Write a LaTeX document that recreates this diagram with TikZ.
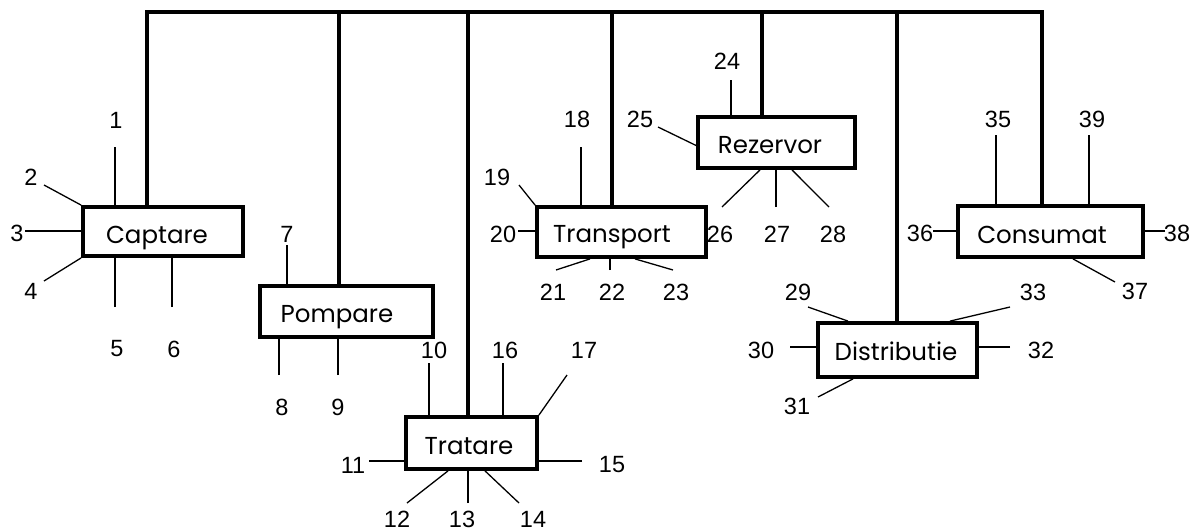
\documentclass[tikz,border=0pt]{standalone}
\usepackage{fontspec}
\setmainfont{Liberation Sans}
\newfontfamily\boxfont{Poppins}
\usetikzlibrary{calc}
\begin{document}
\begin{tikzpicture}[x=1pt,y=-1pt,
  stagebox/.style={draw, line width=3.8pt, inner sep=0pt},
  stagename/.style={anchor=base, inner sep=0pt, font=\boxfont\fontsize{24.5}{28}\selectfont},
  num/.style={inner sep=0pt, font=\fontsize{23.5}{28}\selectfont},
  trunk/.style={line width=4.2pt, line join=miter},
  wire/.style={line width=1.3pt}]
\useasboundingbox (0,0) rectangle (1194,531);
% boxes
\node[stagebox, minimum width=160pt, minimum height=49pt] (cap) at (163,231.5) {};
\node[stagebox, minimum width=173pt, minimum height=51pt] (pom) at (346.5,311.5) {};
\node[stagebox, minimum width=131pt, minimum height=52pt] (tra) at (471.5,443) {};
\node[stagebox, minimum width=169pt, minimum height=50pt] (tsp) at (621.5,232) {};
\node[stagebox, minimum width=157pt, minimum height=51pt] (rez) at (776.5,142.5) {};
\node[stagebox, minimum width=159pt, minimum height=54pt] (dis) at (897.5,350) {};
\node[stagebox, minimum width=185pt, minimum height=51pt] (con) at (1050.5,231.5) {};
% box texts
\node[stagename] (capt) at (157,243) {Captare};
\node[stagename] (pomt) at (337,322) {Pompare};
\node[stagename] (trat) at (469,454) {Tratare};
\node[stagename] (tspt) at (612,242) {Transport};
\node[stagename] (rezt) at (770,153) {Rezervor};
\node[stagename] (dist) at (896,360) {Distributie};
\node[stagename] (cont) at (1042,243) {Consumat};
% trunk
\coordinate (tl) at (147,12);
\coordinate (tr) at (1042,12);
\coordinate (t2) at (339,12);
\coordinate (t3) at (468,12);
\coordinate (t4) at (612,12);
\coordinate (t5) at (762,12);
\coordinate (t6) at (897,12);
\draw[trunk] (tl |- cap.north) -- (tl) -- (tr) -- (tr |- con.north);
\draw[trunk] (t2) -- (t2 |- pom.north);
\draw[trunk] (t3) -- (t3 |- tra.north);
\draw[trunk] (t4) -- (t4 |- tsp.north);
\draw[trunk] (t5) -- (t5 |- rez.north);
\draw[trunk] (t6) -- (t6 |- dis.north);
% labels
\foreach \n/\x/\y in {1/116/120, 2/31/177, 3/17/233, 4/31/291, 5/117/349, 6/174/349,
  7/287/234, 8/282/407, 9/338/407, 10/434/350, 11/353/465, 12/397/519, 13/462/519, 14/533/519,
  15/612/465, 16/505/350, 17/584/350, 18/577/119, 19/497/177, 20/503/234, 21/553/292,
  22/612/292, 23/676/292, 24/727/61, 25/640/119, 26/720/234, 27/777/234, 28/833/234,
  29/798/292, 30/761/350, 31/797/406, 32/1041/350, 33/1033/292, 35/998/119, 36/920/233,
  37/1135/291, 38/1177/233, 39/1092/119}
  \node[num] (l\n) at (\x,\y) {\n};
% free ends of wires
\coordinate (e1) at (115,147);
\coordinate (e2) at (44,185);
\coordinate (e3) at (25,231);
\coordinate (e4) at (44,281);
\coordinate (e5) at (115,307);
\coordinate (e6) at (172,307);
\coordinate (e7) at (287,245);
\coordinate (e8) at (279,375);
\coordinate (e9) at (338,375);
\coordinate (e10) at (429,363);
\coordinate (e11) at (369,461);
\coordinate (e12) at (407,503);
\coordinate (e13) at (468,503);
\coordinate (e14) at (519,503);
\coordinate (e15) at (582,461);
\coordinate (e16) at (503,363);
\coordinate (e17) at (567,375);
\coordinate (e18) at (581,147);
\coordinate (e19) at (519,185);
\coordinate (e20) at (518,231);
\coordinate (e21) at (556,270);
\coordinate (e22) at (610,270);
\coordinate (e23) at (673,270);
\coordinate (e24) at (731,80);
\coordinate (e25) at (658,127);
\coordinate (e26) at (722,207);
\coordinate (e27) at (776,207);
\coordinate (e28) at (829,207);
\coordinate (e29) at (808,307);
\coordinate (e30) at (790,347);
\coordinate (e31) at (818,397);
\coordinate (e32) at (1010,347);
\coordinate (e33) at (1010,307);
\coordinate (e35) at (996,135);
\coordinate (e36) at (933,231);
\coordinate (e37) at (1115,282);
\coordinate (e38) at (1165,231);
\coordinate (e39) at (1089,135);
% wires
\draw[wire] (e1) -- (e1 |- cap.north);
\draw[wire] (e2) -- (cap.north west);
\draw[wire] (e3) -- (e3 -| cap.west);
\draw[wire] (e4) -- (cap.south west);
\draw[wire] (e5) -- (e5 |- cap.south);
\draw[wire] (e6) -- (e6 |- cap.south);
\draw[wire] (e7) -- (e7 |- pom.north);
\draw[wire] (e8) -- (e8 |- pom.south);
\draw[wire] (e9) -- (e9 |- pom.south);
\draw[wire] (e10) -- (e10 |- tra.north);
\draw[wire] (e16) -- (e16 |- tra.north);
\draw[wire] (e17) -- (tra.north east);
\draw[wire] (e11) -- (e11 -| tra.west);
\draw[wire] (e15) -- (e15 -| tra.east);
\draw[wire] (e12) -- ($(tra.south)+(-23.5,0)$);
\draw[wire] (e13) -- (e13 |- tra.south);
\draw[wire] (e14) -- ($(tra.south)+(13.5,0)$);
\draw[wire] (e18) -- (e18 |- tsp.north);
\draw[wire] (e19) -- (tsp.north west);
\draw[wire] (e20) -- (e20 -| tsp.west);
\draw[wire] (e21) -- ($(tsp.south)+(-31.5,0)$);
\draw[wire] (e22) -- (e22 |- tsp.south);
\draw[wire] (e23) -- ($(tsp.south)+(13.5,0)$);
\draw[wire] (e24) -- (e24 |- rez.north);
\draw[wire] (e25) -- ($(rez.west)+(0,3)$);
\draw[wire] (e26) -- ($(rez.south)+(-16.5,0)$);
\draw[wire] (e27) -- (e27 |- rez.south);
\draw[wire] (e28) -- ($(rez.south)+(15.5,0)$);
\draw[wire] (e29) -- ($(dis.north)+(-49.5,0)$);
\draw[wire] (e30) -- (e30 -| dis.west);
\draw[wire] (e31) -- ($(dis.south)+(-44.5,0)$);
\draw[wire] (e32) -- (e32 -| dis.east);
\draw[wire] (e33) -- ($(dis.north)+(52.5,0)$);
\draw[wire] (e35) -- (e35 |- con.north);
\draw[wire] (e39) -- (e39 |- con.north);
\draw[wire] (e36) -- (e36 -| con.west);
\draw[wire] (e38) -- (e38 -| con.east);
\draw[wire] (e37) -- ($(con.south)+(22.5,0)$);
\end{tikzpicture}
\end{document}
